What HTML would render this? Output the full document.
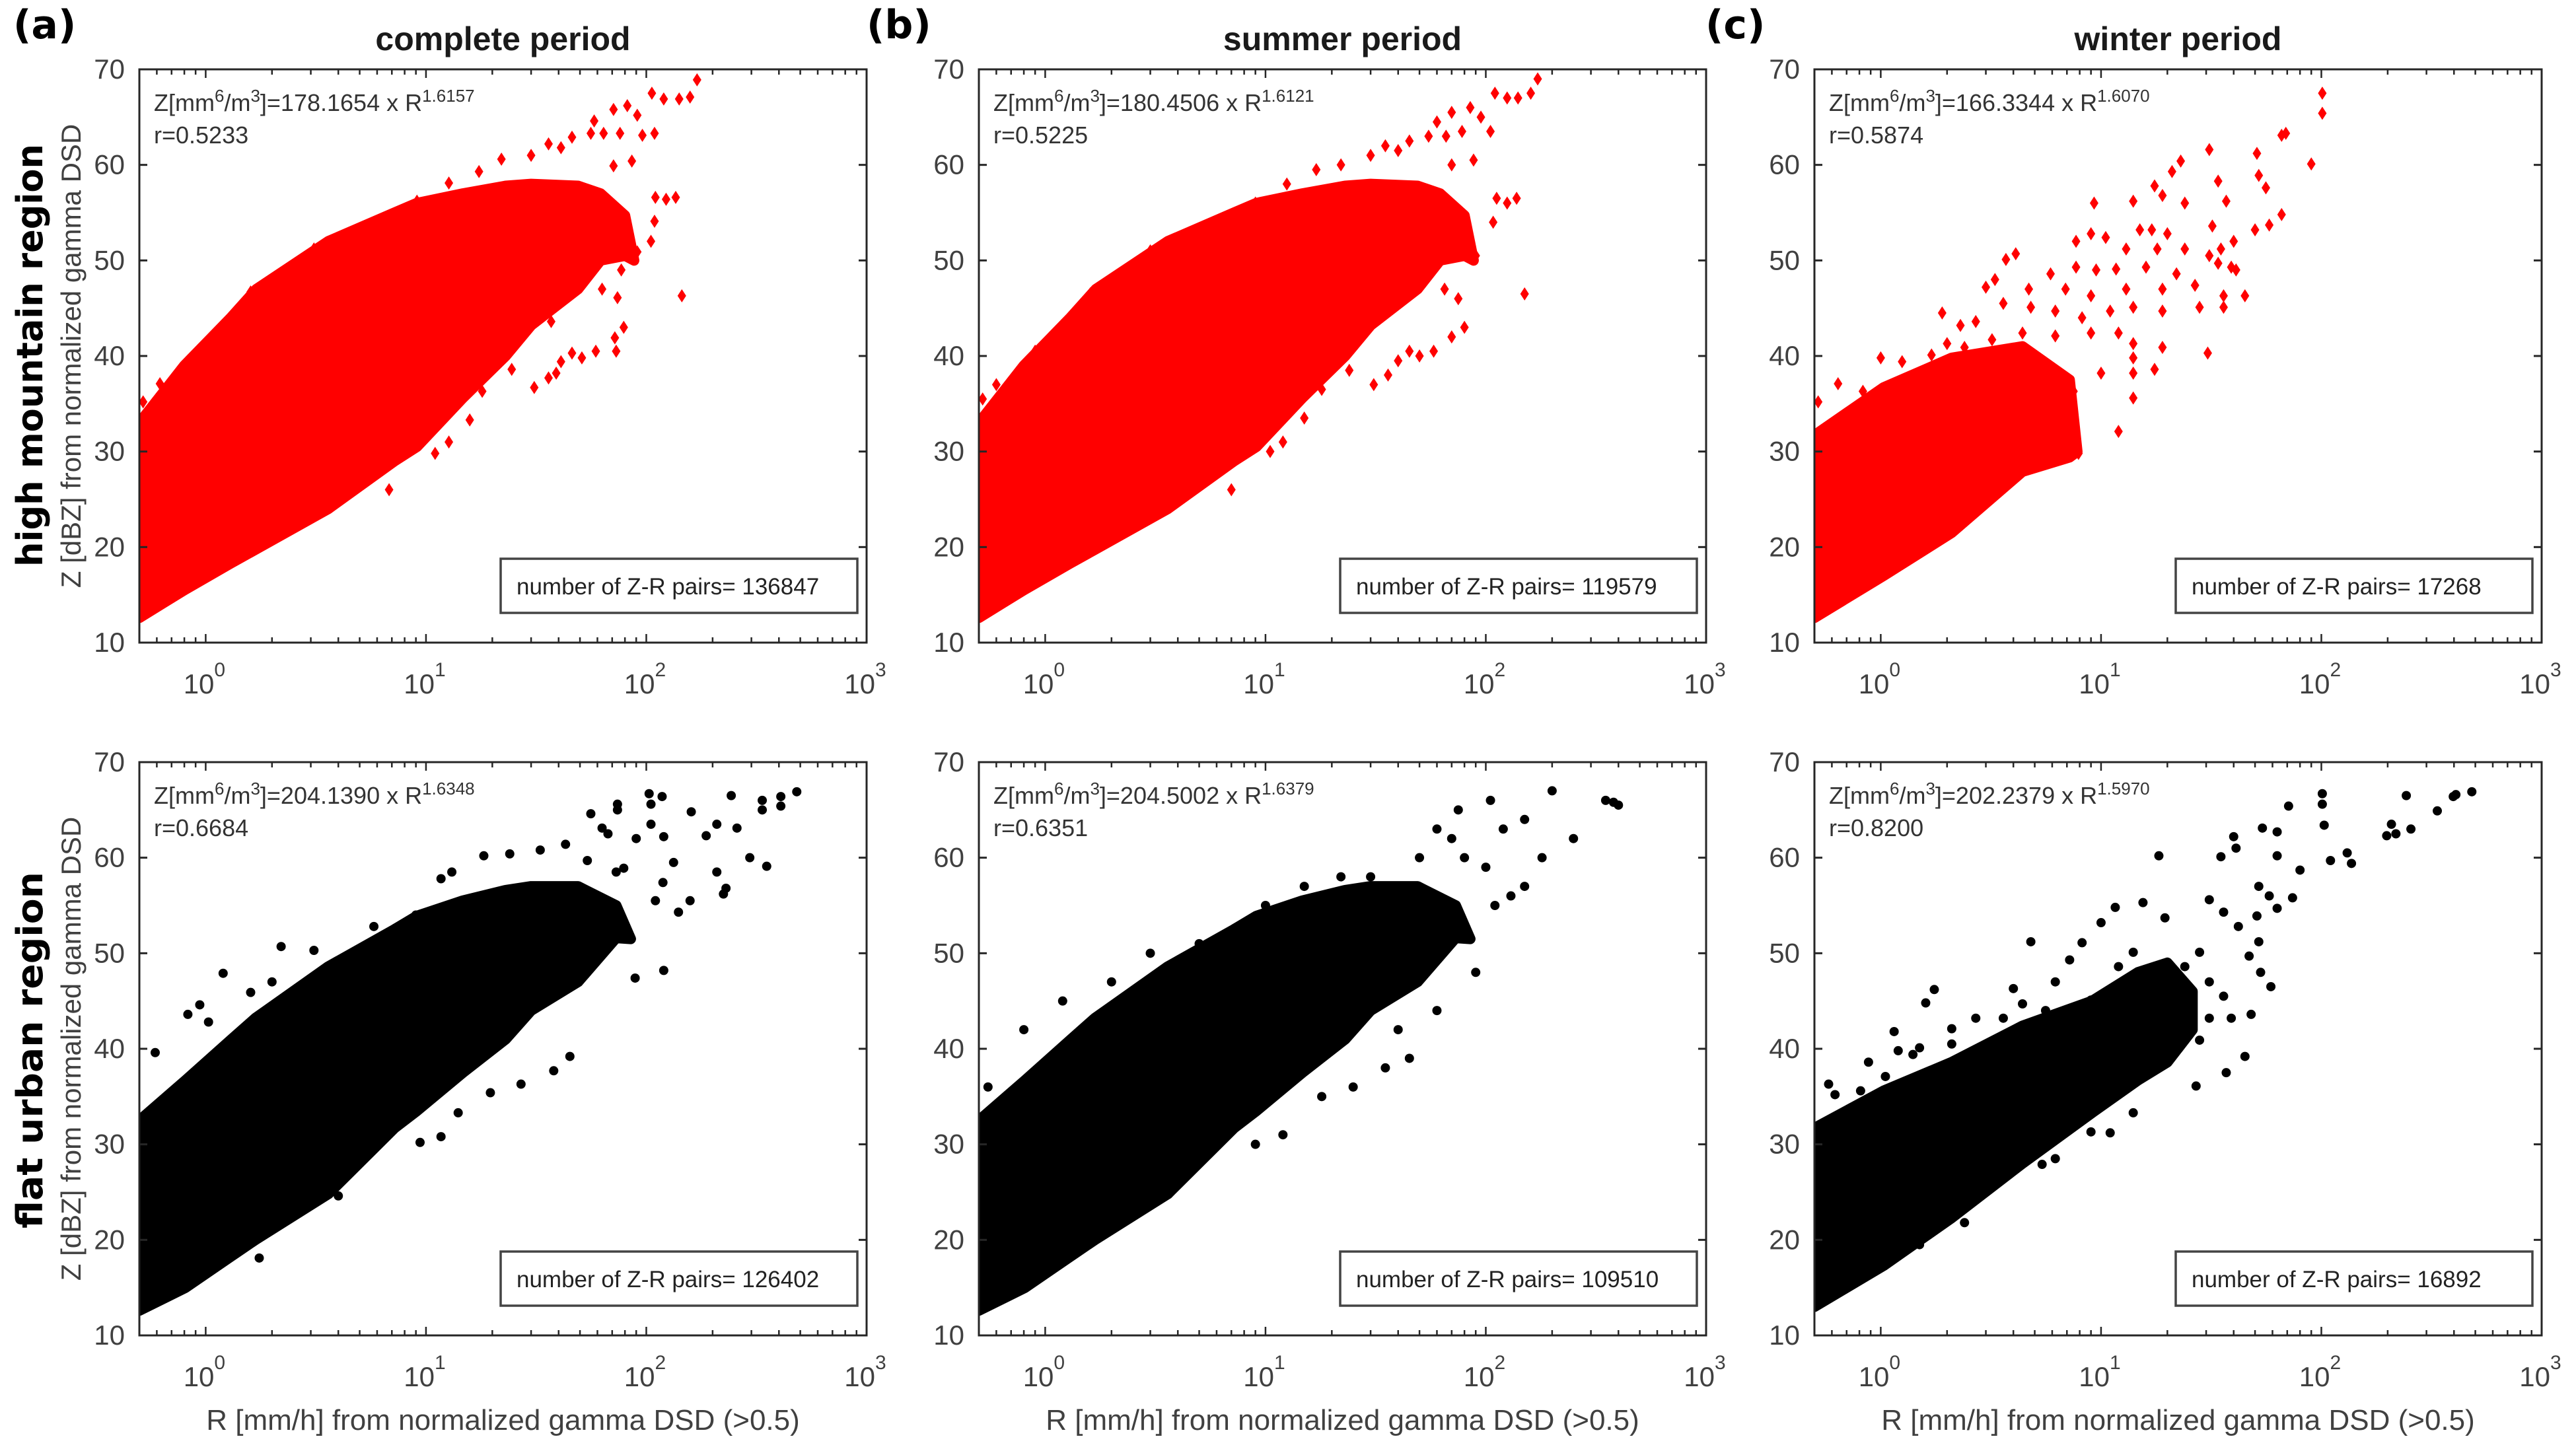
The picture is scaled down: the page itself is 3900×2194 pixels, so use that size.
<!DOCTYPE html>
<html><head><meta charset="utf-8"><style>
html,body{margin:0;padding:0;background:#fff;}
svg{display:block;font-family:"Liberation Sans",Arial,sans-serif;}
</style></head><body>
<svg id="fig" width="3900" height="2194" viewBox="0 0 3900 2194" xmlns="http://www.w3.org/2000/svg">
<rect width="3900" height="2194" fill="#fff"/>
<text x="20" y="58" font-family="DejaVu Sans" font-weight="bold" font-size="60">(a)</text>
<text x="1312" y="58" font-family="DejaVu Sans" font-weight="bold" font-size="60">(b)</text>
<text x="2582" y="58" font-family="DejaVu Sans" font-weight="bold" font-size="60">(c)</text>
<text transform="translate(64,538) rotate(-90)" text-anchor="middle" font-family="DejaVu Sans" font-weight="bold" font-size="54" textLength="640" lengthAdjust="spacingAndGlyphs">high mountain region</text>
<text transform="translate(64,1590) rotate(-90)" text-anchor="middle" font-family="DejaVu Sans" font-weight="bold" font-size="54" textLength="540" lengthAdjust="spacingAndGlyphs">flat urban region</text>
<g id="panels"></g>
</svg>
<script>
// ---- data ----
const xTickExps = [0, 1, 2, 3];
const yTicks = [10, 20, 30, 40, 50, 60, 70];
const columnTitles = ["complete period", "summer period", "winter period"];
const eqCoefs = ["178.1654", "180.4506", "166.3344", "204.1390", "204.5002", "202.2379"];
const eqExps = ["1.6157", "1.6121", "1.6070", "1.6348", "1.6379", "1.5970"];
const rValues = ["0.5233", "0.5225", "0.5874", "0.6684", "0.6351", "0.8200"];
const pairCounts = ["136847", "119579", "17268", "126402", "109510", "16892"];

// dense cloud envelopes (R [mm/h], Z [dBZ])
const envR_ta = [0.5, 0.8, 1.3, 1.7, 3.6, 7.2, 9.1, 14.7, 23, 30, 49, 62, 80, 88];
const envUp_ta = [33, 39, 44, 47, 52, 55, 56, 57, 57.8, 58, 57.8, 57, 54.7, 50];
const envLo_ta = [12.6, 15.5, 18.3, 19.8, 24, 29, 30.5, 35.6, 40, 43.2, 47, 50, 50.5, 50];
const envR_tb = [0.5, 0.8, 1.3, 1.7, 3.6, 7.2, 9.1, 14.7, 23, 30, 49, 62, 80, 88];
const envUp_tb = [33, 39, 44, 47, 52, 55, 56, 57, 57.8, 58, 57.8, 57, 54.7, 50];
const envLo_tb = [12.6, 15.5, 18.3, 19.8, 24, 29, 30.5, 35.6, 40, 43.2, 47, 50, 50.5, 50];
const envR_tc = [0.5, 1.03, 2.1, 4.4, 7.2, 7.8];
const envUp_tc = [31.7, 36.7, 39.8, 41, 37.5, 30];
const envLo_tc = [12.6, 17, 21.5, 27.9, 29.4, 30];
const envR_ba = [0.5, 0.81, 1.31, 1.68, 3.6, 7.2, 9.1, 14.7, 23, 30, 49, 73, 85];
const envUp_ba = [32.5, 36.7, 41, 43.2, 48.6, 52.5, 53.9, 55.5, 56.6, 57, 57, 55, 51.5];
const envLo_ba = [12.6, 15, 18.3, 20, 24.8, 31.7, 33.5, 37.5, 41, 44, 47, 51.6, 51.5];
const envR_bb = [0.5, 0.81, 1.31, 1.68, 3.6, 7.2, 9.1, 14.7, 23, 30, 49, 73, 85];
const envUp_bb = [32.5, 36.7, 41, 43.2, 48.6, 52.5, 53.9, 55.5, 56.6, 57, 57, 55, 51.5];
const envLo_bb = [12.6, 15, 18.3, 20, 24.8, 31.7, 33.5, 37.5, 41, 44, 47, 51.6, 51.5];
const envR_bc = [0.5, 1.03, 2.1, 4.4, 9.1, 14.7, 20, 26];
const envUp_bc = [31.7, 35.6, 38.6, 42.4, 45, 48, 49, 46];
const envLo_bc = [13, 17.3, 22.3, 28, 33.3, 36.7, 38.6, 42];

// scattered points outside the dense cloud
const outR_ta = [170,106,120,141,158,82,71,91,109,58,56,64,76,96,46,71,86,41,30,36,22,17.4,12.7,9.1,7,5.2,3.1,2.4,1.6,2.1,1.18,0.94,0.62,0.52,110,123,136,109,105,145,79,72,73,59,51,46,41,39,36,31,37,24.5,18,15.8,12.7,11,6.8,74,63,77,91];
const outZ_ta = [68.9,67.5,66.9,66.9,67.1,66.2,65.8,65.2,63.3,64.6,63.3,63.3,63.3,63.1,62.9,59.9,60.4,61.8,61,62.2,60.6,59.3,58.1,56.2,53.9,53.2,51.2,48.2,46.7,47.8,42.6,40.5,37.1,35.2,56.6,56.4,56.6,54.1,52,46.3,43,41.9,40.5,40.5,39.8,40.3,39.4,38.2,37.7,36.7,43.6,38.6,36.3,33.3,31,29.8,26,46.1,47,49,50.9];
const outR_tb = [172,110,125,140,160,85,70,95,105,60,55,66,78,45,70,88,40,30,35,22,17,12.5,9,7,5,3,2.3,1.6,1.2,0.9,0.6,0.52,112,125,138,108,150,80,70,58,50,45,40,36,31,24,18,15,12,10.5,7,75,65,90];
const outZ_tb = [69,67.5,67,67,67.5,66,65.5,65,63.5,64.5,63,63,63.5,62.5,60,60.5,61.5,61,62,60,59.5,58,56,54,53,51,48,46.5,43,40.5,37,35.5,56.5,56,56.5,54,46.5,43,42,40.5,40,40.5,39.5,38,37,38.5,36.5,33.5,31,30,26,46,47,50.5];
const outR_tc = [101,101,69,66,31,51,23,21,90,34,52,17.5,19,56,9.3,14,24,37,66,58,50,32,9,10.5,7.7,15,17,20,40,35,4.1,3.7,13,18,24,31,34,39,41,5.9,7.7,9.5,11.7,16,22,3.0,3.3,4.7,6.9,9,13,19,26.7,36,45,1.9,2.3,2.7,3.6,4.8,6.2,8.2,11,14,19,28,36,2,2.4,3.2,4.4,6.2,9,12,14,19,30.5,1.0,1.25,1.7,2.3,14,17.5,14,12,7.9,0.83,0.64,0.52,1.3,3.5,5.6,7.5,10,14];
const outZ_tc = [67.5,65.4,63.3,63.1,61.6,61.2,60.4,59.3,60.1,58.3,58.9,57.8,56.8,57.6,56,56.2,56,56.2,54.8,53.7,53.2,53.6,52.8,52.4,52,53.2,53.2,52.8,52,51.2,50.7,50.1,51.2,51.2,51.2,50.5,49.7,49.3,49,48.6,49.3,49,49.1,49.3,48.6,47.2,48,47,47,46.3,47,47,47.4,46.3,46.3,44.5,43.2,43.6,45.5,45.1,44.7,44,44.7,45.1,44.7,45.1,45.1,41.3,40.9,41.7,42.4,42.1,42.4,42.4,41.3,40.9,40.3,39.8,39.4,40.1,39.8,39.8,38.6,38.2,32.1,29.8,36.3,37.1,35.2,35.6,36.3,38.2,36.3,38.2,35.6];
const outR_ba = [103,118,105,74,74,56,63,67,105,90,120,160,243,187,209,258,336,336,408,408,482,295,352,209,230,224,158,140,133,119,110,120,89,79,73,54,43,33,24,18.3,13.1,11.7,9,5.8,3.1,2.2,2.0,1.6,1.2,0.94,0.83,1.03,0.59,45,38,27,19.6,14,11.7,9.4,4,1.75];
const outZ_ba = [66.7,66.4,65.6,65.6,65,64.6,63.1,62.5,63.5,62,62.2,64.8,66.5,62.3,63.5,63.1,66,65,66.4,65.4,66.9,60,59.1,58.5,56.8,56.2,55.5,54.3,59.5,57.4,55.5,48.2,47.4,58.9,58.5,59.7,61.4,60.8,60.4,60.2,58.5,57.8,54,52.8,50.3,50.7,47,45.9,47.9,44.6,43.6,42.8,39.6,39.2,37.7,36.3,35.4,33.3,30.8,30.2,24.6,18.1];
const outR_bb = [400,350,380,200,250,180,150,100,120,70,80,105,75,60,50,30,22,15,10,5,3,2,1.2,0.8,0.55,60,40,45,35,25,18,12,9,150,130,110,90];
const outZ_bb = [65.5,66,65.8,67,62,60,64,59,63,62,60,66,65,63,60,58,58,57,55,51,50,47,45,42,36,44,42,39,38,36,35,31,30,57,56,55,48];
const outR_bc = [101,101,103,71,54,63,40,41,18.3,35,63,80,110,131,137,198,218,208,255,243,336,397,408,482,52,58,63,74,31,36,42,51,52,47,53,59,15.5,11.6,10,19.5,4.8,8.2,1.75,1.6,1.15,1.2,0.88,0.58,0.62,45,37,27,14,11,9,6.2,5.4,2.4,1.5,28,31,36,39,48,31,24,14,12,7.2,6.2,4,3.6,2.7,2.1,2.1,1.4,1.5,1.05,0.81,13,17.7,19.3,9,5.6,4.4,28,22,13,10,7.2];
const outZ_bc = [66.7,65.6,63.4,65.4,63.1,62.7,62.2,61,60.2,60.1,60.2,58.7,59.7,60.5,59.4,62.3,62.5,63.5,63,66.5,64.9,66.4,66.6,66.9,57,56,54.7,55.8,55.6,54.3,52.8,53.9,51.2,49.7,48,46.5,55.3,54.8,53.2,53.7,51.2,51.1,46.2,44.8,41.8,39.8,38.6,36.3,35.2,39.2,37.5,36.1,33.3,31.2,31.3,28.5,27.9,21.8,19.5,50.1,47,45.5,43.2,43.6,43.2,48.6,50.1,48.6,49.3,47,46.3,43.2,43.2,42.1,40.5,39.4,40.1,37.1,35.6,45.1,47,43.2,45.1,44,44.7,40.9,40.1,38.2,35.9,36.7];

const envR = [envR_ta, envR_tb, envR_tc, envR_ba, envR_bb, envR_bc];
const envUp = [envUp_ta, envUp_tb, envUp_tc, envUp_ba, envUp_bb, envUp_bc];
const envLo = [envLo_ta, envLo_tb, envLo_tc, envLo_ba, envLo_bb, envLo_bc];
const outR = [outR_ta, outR_tb, outR_tc, outR_ba, outR_bb, outR_bc];
const outZ = [outZ_ta, outZ_tb, outZ_tc, outZ_ba, outZ_bb, outZ_bc];

// ---- layout ----
const NS = "http://www.w3.org/2000/svg";
const colLeft = [211, 1482, 2747];
const rowTop = [105, 1154];
const PW = 1101, PH = 868;
const XMIN = Math.log10(0.5), XMAX = 3, YMIN = 10, YMAX = 70;
const root = document.getElementById("panels");
function mk(tag, attrs, parent) {
  const e = document.createElementNS(NS, tag);
  for (const k in attrs) e.setAttribute(k, attrs[k]);
  (parent || root).appendChild(e);
  return e;
}
const AX = "#262626", TX = "#404040";

for (let p = 0; p < 6; p++) {
  const row = Math.floor(p / 3), col = p % 3;
  const L = colLeft[col], T = rowTop[row], R = L + PW, B = T + PH;
  const sx = r => L + (Math.log10(r) - XMIN) / (XMAX - XMIN) * PW;
  const sy = z => B - (z - YMIN) / (YMAX - YMIN) * PH;
  const color = row === 0 ? "#ff0000" : "#000000";
  const g = mk("g", {});
  
  
  const cp = mk("clipPath", { id: "clip" + p }, g);
  mk("rect", { x: L, y: T, width: PW, height: PH }, cp);
  const dg = mk("g", { "clip-path": "url(#clip" + p + ")" }, g);
  // dense cloud
  const er = envR[p], eu = envUp[p], el = envLo[p];
  let pts = [];
  for (let i = 0; i < er.length; i++) pts.push(sx(er[i]) + "," + sy(eu[i]));
  for (let i = er.length - 1; i >= 0; i--) pts.push(sx(er[i]) + "," + sy(el[i]));
  pts.push((sx(er[0]) - 20) + "," + sy(el[0]));
  pts.push((sx(er[0]) - 20) + "," + sy(eu[0]));
  const cloud = mk("polygon", { points: pts.join(" "), fill: color, stroke: color, "stroke-width": 16, "stroke-linejoin": "round" }, dg);
  
  
  // outliers
  const orr = outR[p], oz = outZ[p];
  for (let i = 0; i < orr.length; i++) {
    const cx = sx(orr[i]), cy = sy(oz[i]);
    let m;
    if (row === 0) m = mk("polygon", { points: `${cx},${cy-10} ${cx+6.5},${cy} ${cx},${cy+10} ${cx-6.5},${cy}`, fill: color }, dg);
    else m = mk("circle", { cx: cx, cy: cy, r: 7, fill: color }, dg);
    
    
  }
  // axes box
  const box = mk("rect", { x: L, y: T, width: PW, height: PH, fill: "none", stroke: AX, "stroke-width": 3 }, g);
  
  
  // y ticks
  yTicks.forEach(v => {
    const y = sy(v);
    mk("line", { x1: L, y1: y, x2: L + 12, y2: y, stroke: AX, "stroke-width": 3 }, g);
    mk("line", { x1: R, y1: y, x2: R - 12, y2: y, stroke: AX, "stroke-width": 3 }, g);
    const t = mk("text", { x: L - 22, y: y + 14, "text-anchor": "end", "font-size": 42, fill: TX }, g);
    t.textContent = v;
    
    
  });
  // x ticks (major + minor)
  for (let e = -1; e <= 3; e++) {
    for (let k = 1; k <= 9; k++) {
      const r = k * Math.pow(10, e);
      if (r < 0.5 || r > 1000) continue;
      const x = sx(r), len = k === 1 ? 13 : 8;
      mk("line", { x1: x, y1: B, x2: x, y2: B - len, stroke: AX, "stroke-width": 2.5 }, g);
      mk("line", { x1: x, y1: T, x2: x, y2: T + len, stroke: AX, "stroke-width": 2.5 }, g);
    }
  }
  xTickExps.forEach(e => {
    const x = sx(Math.pow(10, e));
    const t = mk("text", { x: x - 2, y: B + 77, "text-anchor": "middle", "font-size": 42, fill: TX }, g);
    t.appendChild(document.createTextNode("10"));
    const s = mk("tspan", { dy: -26, "font-size": 30 }, t);
    s.textContent = e;
    
    
  });
  // equation annotation
  const eq = mk("text", { x: L + 22, y: T + 63, "font-size": 36, fill: "#333" }, g);
  
  
  eq.appendChild(document.createTextNode("Z[mm"));
  let s1 = mk("tspan", { dy: -14, "font-size": 26 }, eq); s1.textContent = "6";
  let s2 = mk("tspan", { dy: 14 }, eq); s2.textContent = "/m";
  let s3 = mk("tspan", { dy: -14, "font-size": 26 }, eq); s3.textContent = "3";
  let s4 = mk("tspan", { dy: 14 }, eq); s4.textContent = "]=" + eqCoefs[p] + " x R";
  let s5 = mk("tspan", { dy: -14, "font-size": 26 }, eq); s5.textContent = eqExps[p];
  const rt = mk("text", { x: L + 22, y: T + 112, "font-size": 36, fill: "#333" }, g);
  rt.textContent = "r=" + rValues[p];
  
  
  // count box
  const bw = 540, bh = 82, bx = R - 14 - bw, by = B - 45 - bh;
  const cb = mk("rect", { x: bx, y: by, width: bw, height: bh, fill: "#fff", stroke: "#444", "stroke-width": 3.5 }, g);
  
  
  const ct = mk("text", { x: bx + 24, y: by + 54, "font-size": 35, fill: "#222" }, g);
  ct.setAttribute("xml:space", "preserve");
  ct.textContent = "number of Z-R pairs=  " + pairCounts[p];
  
  
  // titles & axis labels
  if (row === 0) {
    const tt = mk("text", { x: L + PW / 2, y: 76, "text-anchor": "middle", "font-size": 50, "font-weight": "bold", fill: "#1a1a1a" }, g);
    tt.textContent = columnTitles[col];
    
    
  }
  if (col === 0) {
    const yl = mk("text", { transform: `translate(122,${T + PH / 2}) rotate(-90)`, "text-anchor": "middle", "font-size": 42, fill: TX }, g);
    yl.textContent = "Z [dBZ] from normalized gamma DSD";
    
    
  }
  if (row === 1) {
    const xl = mk("text", { x: L + PW / 2, y: 2165, "text-anchor": "middle", "font-size": 44, fill: TX }, g);
    xl.textContent = "R [mm/h] from normalized gamma DSD (>0.5)";
    
    
  }
}
</script>
</body></html>
